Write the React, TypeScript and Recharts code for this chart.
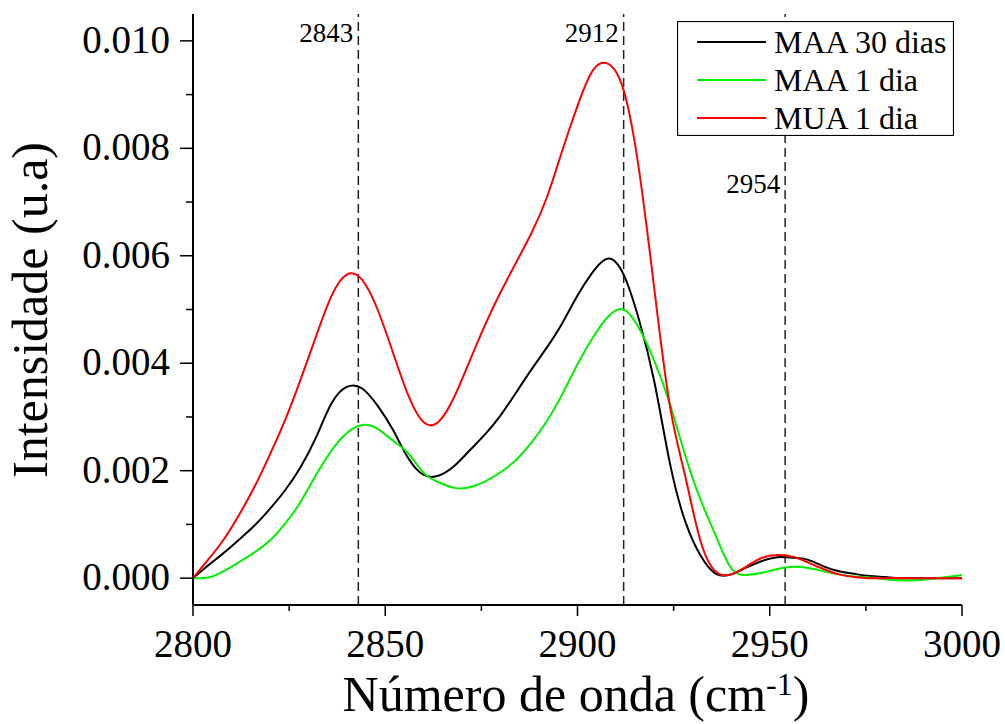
import { LineChart, Line, XAxis, YAxis, ReferenceLine } from 'recharts'

// FTIR C-H stretching region, 2800-3000 cm-1, sampled every 4 cm-1
const wavenumbers = [
  2800, 2804, 2808, 2812, 2816, 2820, 2824, 2828, 2832, 2836, 2840, 2844, 2848,
  2852, 2856, 2860, 2864, 2868, 2872, 2876, 2880, 2884, 2888, 2892, 2896, 2900,
  2904, 2908, 2912, 2916, 2920, 2924, 2928, 2932, 2936, 2940, 2944, 2948, 2952,
  2956, 2960, 2964, 2968, 2972, 2976, 2980, 2984, 2988, 2992, 2996, 3000,
]

const maa30Dias = [
  0, 0.00024, 0.00047, 0.00072, 0.00098, 0.00129, 0.00164, 0.00207, 0.00262,
  0.00325, 0.00356, 0.00353, 0.00321, 0.00276, 0.00223, 0.00192, 0.00191,
  0.00209, 0.00238, 0.00268, 0.00303, 0.00345, 0.00388, 0.00429, 0.00474,
  0.00526, 0.0057, 0.00595, 0.00565, 0.00481, 0.00365, 0.00215, 0.00106,
  0.00042, 0.00008, 0.00007, 0.0002, 0.00032, 0.00039, 0.00038, 0.00034,
  0.00022, 0.00013, 0.00008, 0.00004, 0.00002, 0, 0, 0, 0, 0,
]

const maa1Dia = [
  0, 0.00001, 0.00013, 0.0003, 0.00048, 0.0007, 0.00102, 0.00142, 0.00192,
  0.00237, 0.0027, 0.00285, 0.00278, 0.00256, 0.00232, 0.00196, 0.00178,
  0.00168, 0.00169, 0.0018, 0.00197, 0.0022, 0.00252, 0.00292, 0.00342,
  0.00398, 0.00448, 0.00487, 0.005, 0.00465, 0.00404, 0.00325, 0.00229,
  0.00146, 0.00078, 0.00018, 0.00006, 0.0001, 0.00017, 0.00021, 0.00019,
  0.00013, 0.00007, 0.00003, 0.00001, -0.00002, -0.00004, -0.00004, -0.00001,
  0.00002, 0.00006,
]

const mua1Dia = [
  0, 0.00035, 0.00072, 0.00118, 0.0017, 0.0023, 0.00295, 0.0037, 0.0045,
  0.00525, 0.00565, 0.00555, 0.005, 0.0042, 0.0034, 0.0029, 0.00292, 0.00338,
  0.00405, 0.00472, 0.00532, 0.00587, 0.00642, 0.00708, 0.00795, 0.00879,
  0.00945, 0.00957, 0.00908, 0.0076, 0.00537, 0.00322, 0.0019, 0.00069,
  0.00012, 0.00007, 0.00022, 0.00038, 0.00043, 0.0004, 0.00029, 0.00017,
  0.00007, 0.00002, 0, 0, 0, 0, 0, 0, 0,
]

// band assignments marked with dashed lines
const bandPositions = [2843, 2912, 2954]

const xTicks = [2800, 2825, 2850, 2875, 2900, 2925, 2950, 2975, 3000]
const xMajorTicks = [2800, 2850, 2900, 2950, 3000]
const yTicks = [0, 0.001, 0.002, 0.003, 0.004, 0.005, 0.006, 0.007, 0.008, 0.009, 0.01]
const yMajorTicks = [0, 0.002, 0.004, 0.006, 0.008, 0.01]

const series = [
  { key: 'maa30', name: 'MAA 30 dias', color: '#000000' },
  { key: 'maa1', name: 'MAA 1 dia', color: '#00f000' },
  { key: 'mua1', name: 'MUA 1 dia', color: '#ff0000' },
]

const rows = wavenumbers.map((x, i) => ({
  x,
  maa30: maa30Dias[i],
  maa1: maa1Dia[i],
  mua1: mua1Dia[i],
}))

const FONT = 'Liberation Serif'
const yDomain = [-0.0005, 0.0105]

// label baseline below the top of the plot, per band
const bandLabelOffset: Record<number, number> = { 2843: 28, 2912: 28, 2954: 179 }

const XTick = ({ x, y, payload }: any) => {
  const major = xMajorTicks.includes(payload.value)
  return (
    <g>
      <line x1={x} x2={x} y1={y} y2={y + (major ? 11 : 6)} stroke="#000" strokeWidth={1.5} />
      {major && (
        <text x={x} y={y + 52} textAnchor="middle" fontFamily={FONT} fontSize={39} fill="#000">
          {payload.value}
        </text>
      )}
    </g>
  )
}

const YTick = ({ x, y, payload }: any) => {
  const major = yMajorTicks.includes(payload.value)
  return (
    <g>
      <line x1={x - (major ? 13 : 7)} x2={x} y1={y} y2={y} stroke="#000" strokeWidth={1.5} />
      {major && (
        <text x={x - 23} y={y + 12} textAnchor="end" fontFamily={FONT} fontSize={39} fill="#000">
          {payload.value.toFixed(3)}
        </text>
      )}
    </g>
  )
}

// boxed legend in the top-right corner of the plot
const LegendBox = () => (
  <svg width={277} height={115} style={{ position: 'absolute', left: 677, top: 21 }}>
    <rect x={0.5} y={0.5} width={276} height={114} fill="#fff" stroke="#000" strokeWidth={1.2} />
    {series.map((s, i) => (
      <g key={s.key}>
        <line x1={20} x2={89} y1={21 + i * 38} y2={21 + i * 38} stroke={s.color} strokeWidth={2} />
        <text x={97} y={32 + i * 38} fontFamily={FONT} fontSize={32} fill="#000">
          {s.name}
        </text>
      </g>
    ))}
  </svg>
)

export default function App() {
  return (
    <div style={{ position: 'absolute', left: 0, top: 0 }}>
      <LineChart width={1005} height={724} data={rows} margin={{ top: 14, right: 43, bottom: 0, left: 0 }}>
        <XAxis
          dataKey="x"
          type="number"
          domain={[2800, 3000]}
          allowDataOverflow
          ticks={xTicks}
          interval={0}
          height={119}
          tickSize={0}
          tickMargin={0}
          tickLine={false}
          axisLine={{ stroke: '#000', strokeWidth: 2 }}
          tick={XTick}
          label={() => (
            <text x={576} y={711} textAnchor="middle" fontFamily={FONT} fontSize={50} fill="#000">
              Número de onda (cm
              <tspan fontSize={32} dy={-16}>-1</tspan>
              <tspan dy={16}>)</tspan>
            </text>
          )}
        />
        <XAxis
          xAxisId="top"
          dataKey="x"
          type="number"
          domain={[2800, 3000]}
          orientation="top"
          height={0}
          tick={false}
          tickLine={false}
          axisLine={{ stroke: '#333', strokeWidth: 1.2 }}
        />
        <YAxis
          type="number"
          domain={yDomain}
          allowDataOverflow
          ticks={yTicks}
          interval={0}
          width={193}
          tickSize={0}
          tickMargin={0}
          tickLine={false}
          axisLine={{ stroke: '#000', strokeWidth: 2 }}
          tick={YTick}
          label={() => (
            <text
              x={47}
              y={310}
              transform="rotate(-90, 47, 310)"
              textAnchor="middle"
              fontFamily={FONT}
              fontSize={50}
              fill="#000"
            >
              Intensidade (u.a)
            </text>
          )}
        />
        <YAxis
          yAxisId="right"
          type="number"
          domain={yDomain}
          orientation="right"
          width={0}
          tick={false}
          tickLine={false}
          axisLine={{ stroke: '#333', strokeWidth: 1.2 }}
        />
        {bandPositions.map((b) => (
          <ReferenceLine
            key={b}
            x={b}
            stroke="#222"
            strokeWidth={1.5}
            strokeDasharray="9 5"
            label={({ viewBox }: any) => (
              <text
                x={viewBox.x - 5}
                y={viewBox.y + bandLabelOffset[b]}
                textAnchor="end"
                fontFamily={FONT}
                fontSize={27}
                fill="#000"
              >
                {b}
              </text>
            )}
          />
        ))}
        {series.map((s) => (
          <Line
            key={s.key}
            type="natural"
            dataKey={s.key}
            name={s.name}
            stroke={s.color}
            strokeWidth={2}
            dot={false}
            activeDot={false}
            isAnimationActive={false}
          />
        ))}
      </LineChart>
      <LegendBox />
    </div>
  )
}
